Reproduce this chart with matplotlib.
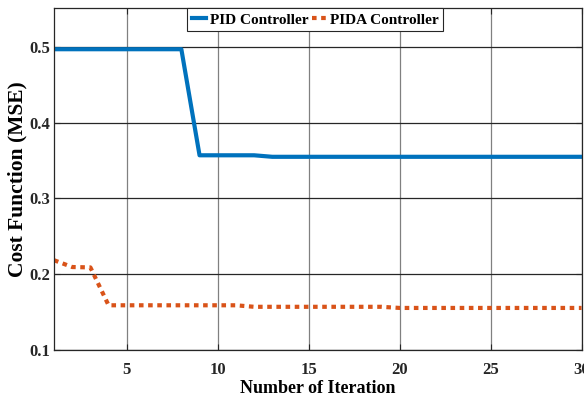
import numpy as np
import matplotlib
matplotlib.use("Agg")
import matplotlib.pyplot as plt

# dane
iteracje = np.arange(1, 31)
pid = [0.497] * 8 + [0.357] * 4 + [0.355] * 18
pida = [0.2185, 0.2095, 0.209] + [0.159] * 8 + [0.157] * 8 + [0.1555] * 11

plt.rcParams['font.family'] = ['Liberation Serif', 'DejaVu Serif']
plt.rcParams['font.weight'] = 'bold'

fig = plt.figure(figsize=(5.84, 3.96), dpi=100)
ax = fig.add_axes([0.0925, 0.1162, 0.9033, 0.8628])

ax.plot(iteracje, pid, color='#0072BD', linewidth=3, label='PID Controller')
ax.plot(iteracje, pida, color='#D95319', linewidth=3, dashes=(1.1, 1.1),
        label='PIDA Controller')

ax.set_xlim(1, 30)
ax.set_ylim(0.1, 0.551)
ax.set_xticks([5, 10, 15, 20, 25, 30])
ax.set_yticks([0.1, 0.2, 0.3, 0.4, 0.5])

ax.xaxis.grid(True, color='#808080', linewidth=0.9)
ax.yaxis.grid(True, color='#262626', linewidth=0.9)
ax.set_axisbelow(True)

for s in ax.spines.values():
    s.set_linewidth(0.9)
    s.set_color('#262626')

ax.tick_params(axis='both', direction='in', length=4.5, width=0.8,
               top=True, right=True, labelsize=12, colors='#262626')
ax.tick_params(axis='x', pad=9)
ax.tick_params(axis='y', pad=3)

ax.set_xlabel('Number of Iteration', fontsize=13, fontweight='bold')
ax.xaxis.set_label_coords(0.5, -0.087)
ax.set_ylabel('Cost Function (MSE)', fontsize=15.5, fontweight='bold')
ax.yaxis.set_label_coords(-0.05, 0.5)

leg = ax.legend(loc='upper center', bbox_to_anchor=(0.495, 1.0), ncol=2,
                fontsize=11, frameon=True, fancybox=False,
                borderaxespad=0, handlelength=0.9, handletextpad=0.25,
                columnspacing=0.25, borderpad=0.3)
leg.get_frame().set_edgecolor('#262626')
leg.get_frame().set_linewidth(0.8)
leg.get_frame().set_alpha(1)

plt.savefig("out.png", dpi=100)
